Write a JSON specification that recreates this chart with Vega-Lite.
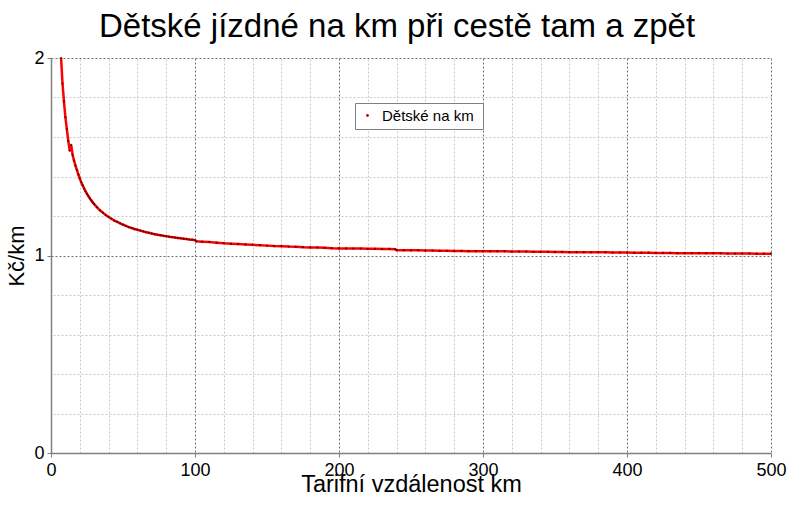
{
  "$schema": "https://vega.github.io/schema/vega-lite/v6.json",
  "autosize": "none",
  "width": 720,
  "height": 395,
  "padding": {"left": 51, "top": 58, "right": 29, "bottom": 59},
  "background": "white",
  "title": {
    "text": "Dětské jízdné na km při cestě tam a zpět",
    "font": "Liberation Sans",
    "fontSize": 33,
    "fontWeight": "normal",
    "color": "#000000",
    "anchor": "middle",
    "dx": -14,
    "offset": 5
  },
  "config": {
    "view": {"stroke": null},
    "axis": {"labelFont": "Liberation Sans", "titleFont": "Liberation Sans", "labelColor": "#000", "titleColor": "#000", "titleFontWeight": "normal"}
  },
  "data": {
    "values": [
      {"km": 7, "v": 2.0}, {"km": 8, "v": 1.87}, {"km": 9, "v": 1.78}, {"km": 10, "v": 1.7},
      {"km": 11, "v": 1.64}, {"km": 12, "v": 1.58}, {"km": 13, "v": 1.53}, {"km": 14, "v": 1.56},
      {"km": 15, "v": 1.51}, {"km": 16, "v": 1.48}, {"km": 17, "v": 1.455}, {"km": 18, "v": 1.433},
      {"km": 19, "v": 1.41}, {"km": 20, "v": 1.39}, {"km": 21, "v": 1.371}, {"km": 22, "v": 1.355},
      {"km": 23, "v": 1.339}, {"km": 24, "v": 1.325}, {"km": 25, "v": 1.312}, {"km": 26, "v": 1.3},
      {"km": 27, "v": 1.289}, {"km": 28, "v": 1.279}, {"km": 29, "v": 1.269}, {"km": 30, "v": 1.26},
      {"km": 32, "v": 1.244}, {"km": 34, "v": 1.229}, {"km": 36, "v": 1.217}, {"km": 38, "v": 1.205},
      {"km": 40, "v": 1.195}, {"km": 42, "v": 1.186}, {"km": 44, "v": 1.177}, {"km": 46, "v": 1.17},
      {"km": 48, "v": 1.163}, {"km": 50, "v": 1.156}, {"km": 52, "v": 1.15}, {"km": 54, "v": 1.144},
      {"km": 56, "v": 1.139}, {"km": 58, "v": 1.134}, {"km": 60, "v": 1.13}, {"km": 62, "v": 1.126},
      {"km": 64, "v": 1.122}, {"km": 66, "v": 1.118}, {"km": 68, "v": 1.115}, {"km": 70, "v": 1.111},
      {"km": 72, "v": 1.108}, {"km": 74, "v": 1.105}, {"km": 76, "v": 1.103}, {"km": 78, "v": 1.1},
      {"km": 80, "v": 1.098}, {"km": 82, "v": 1.095}, {"km": 84, "v": 1.093}, {"km": 86, "v": 1.091},
      {"km": 88, "v": 1.089}, {"km": 90, "v": 1.087}, {"km": 92, "v": 1.085}, {"km": 94, "v": 1.083},
      {"km": 96, "v": 1.081}, {"km": 98, "v": 1.08}, {"km": 100, "v": 1.078},
      {"km": 101, "v": 1.072}, {"km": 105, "v": 1.07}, {"km": 110, "v": 1.068}, {"km": 115, "v": 1.065},
      {"km": 120, "v": 1.062}, {"km": 125, "v": 1.06}, {"km": 130, "v": 1.058}, {"km": 135, "v": 1.056},
      {"km": 140, "v": 1.054}, {"km": 145, "v": 1.052}, {"km": 150, "v": 1.05}, {"km": 155, "v": 1.048},
      {"km": 160, "v": 1.047}, {"km": 165, "v": 1.045}, {"km": 170, "v": 1.044}, {"km": 175, "v": 1.042},
      {"km": 180, "v": 1.041}, {"km": 185, "v": 1.04}, {"km": 190, "v": 1.039}, {"km": 195, "v": 1.037},
      {"km": 200, "v": 1.036}, {"km": 205, "v": 1.036}, {"km": 210, "v": 1.035}, {"km": 215, "v": 1.035},
      {"km": 220, "v": 1.034}, {"km": 225, "v": 1.034}, {"km": 230, "v": 1.033}, {"km": 235, "v": 1.033},
      {"km": 239, "v": 1.032}, {"km": 240, "v": 1.027}, {"km": 245, "v": 1.027}, {"km": 250, "v": 1.026},
      {"km": 255, "v": 1.026}, {"km": 260, "v": 1.025}, {"km": 265, "v": 1.025}, {"km": 270, "v": 1.024},
      {"km": 275, "v": 1.024}, {"km": 280, "v": 1.023}, {"km": 285, "v": 1.023}, {"km": 290, "v": 1.022},
      {"km": 295, "v": 1.022}, {"km": 300, "v": 1.022}, {"km": 305, "v": 1.021}, {"km": 310, "v": 1.021},
      {"km": 315, "v": 1.021}, {"km": 320, "v": 1.02}, {"km": 325, "v": 1.02}, {"km": 330, "v": 1.02},
      {"km": 335, "v": 1.019}, {"km": 340, "v": 1.019}, {"km": 345, "v": 1.019}, {"km": 350, "v": 1.018},
      {"km": 355, "v": 1.018}, {"km": 360, "v": 1.017}, {"km": 365, "v": 1.017}, {"km": 370, "v": 1.017},
      {"km": 375, "v": 1.016}, {"km": 380, "v": 1.016}, {"km": 385, "v": 1.016}, {"km": 390, "v": 1.015},
      {"km": 395, "v": 1.015}, {"km": 400, "v": 1.015}, {"km": 405, "v": 1.014}, {"km": 410, "v": 1.014},
      {"km": 415, "v": 1.014}, {"km": 420, "v": 1.013}, {"km": 425, "v": 1.013}, {"km": 430, "v": 1.013},
      {"km": 435, "v": 1.012}, {"km": 440, "v": 1.012}, {"km": 445, "v": 1.012}, {"km": 450, "v": 1.012},
      {"km": 455, "v": 1.011}, {"km": 460, "v": 1.011}, {"km": 465, "v": 1.011}, {"km": 470, "v": 1.01},
      {"km": 475, "v": 1.01}, {"km": 480, "v": 1.01}, {"km": 485, "v": 1.01}, {"km": 490, "v": 1.009},
      {"km": 495, "v": 1.009}, {"km": 500, "v": 1.009}
    ]
  },
  "transform": [{"calculate": "'Dětské  na km'", "as": "serie"}],
  "layer": [
    {
      "mark": {"type": "line", "color": "#ff0000", "strokeWidth": 2.5, "clip": true},
      "encoding": {
        "x": {
          "field": "km", "type": "quantitative",
          "scale": {"domain": [0, 500], "nice": false, "zero": true},
          "axis": {
            "orient": "top", "title": null, "labels": false, "ticks": false, "domain": false,
            "values": [20, 40, 60, 80, 120, 140, 160, 180, 220, 240, 260, 280, 320, 340, 360, 380, 420, 440, 460, 480],
            "grid": true, "gridColor": "#c8c8c8", "gridDash": [2, 2], "gridWidth": 1
          }
        },
        "y": {
          "field": "v", "type": "quantitative",
          "scale": {"domain": [0, 2], "nice": false},
          "axis": {
            "orient": "right", "title": null, "labels": false, "ticks": false, "domain": false,
            "values": [0.2, 0.4, 0.6, 0.8, 1.2, 1.4, 1.6, 1.8],
            "grid": true, "gridColor": "#c8c8c8", "gridDash": [2, 2], "gridWidth": 1
          }
        },
        "color": {
          "field": "serie", "type": "nominal",
          "scale": {"range": ["#ff0000"]},
          "legend": {
            "title": null, "orient": "none", "legendX": 304, "legendY": 45,
            "symbolType": "circle", "symbolSize": 8, "symbolFillColor": "#cc0000", "symbolStrokeColor": "#cc0000", "symbolStrokeWidth": 0,
            "labelFont": "Liberation Sans", "labelFontSize": 15, "labelColor": "#000",
            "fillColor": "white", "strokeColor": "#808080", "padding": 5, "cornerRadius": 0,
            "labelOffset": 7
          }
        }
      }
    },
    {
      "mark": {"type": "point", "filled": true, "color": "#5a0000", "size": 5, "opacity": 0.9},
      "encoding": {
        "x": {
          "field": "km", "type": "quantitative",
          "axis": {
            "orient": "bottom", "title": "Tarifní vzdálenost km", "titleFontSize": 23.5, "titlePadding": -7,
            "values": [0, 100, 200, 300, 400, 500], "labelFontSize": 18, "labelPadding": 4,
            "tickSize": 4, "tickColor": "#808080", "domainColor": "#808080", "domainWidth": 1.5,
            "grid": true, "gridColor": "#707070", "gridDash": [2, 2], "gridWidth": 1, "labelFlush": false
          }
        },
        "y": {
          "field": "v", "type": "quantitative",
          "axis": {
            "orient": "left", "title": "Kč/km", "titleFontSize": 22, "titlePadding": 5,
            "values": [0, 1, 2], "labelExpr": "format(datum.value, '~g')", "labelFontSize": 18, "labelPadding": 3,
            "tickSize": 4, "tickColor": "#808080", "domainColor": "#808080", "domainWidth": 1.5,
            "grid": true, "gridColor": "#707070", "gridDash": [2, 2], "gridWidth": 1, "labelFlush": false
          }
        }
      }
    }
  ],
  "resolve": {"axis": {"x": "independent", "y": "independent"}}
}
